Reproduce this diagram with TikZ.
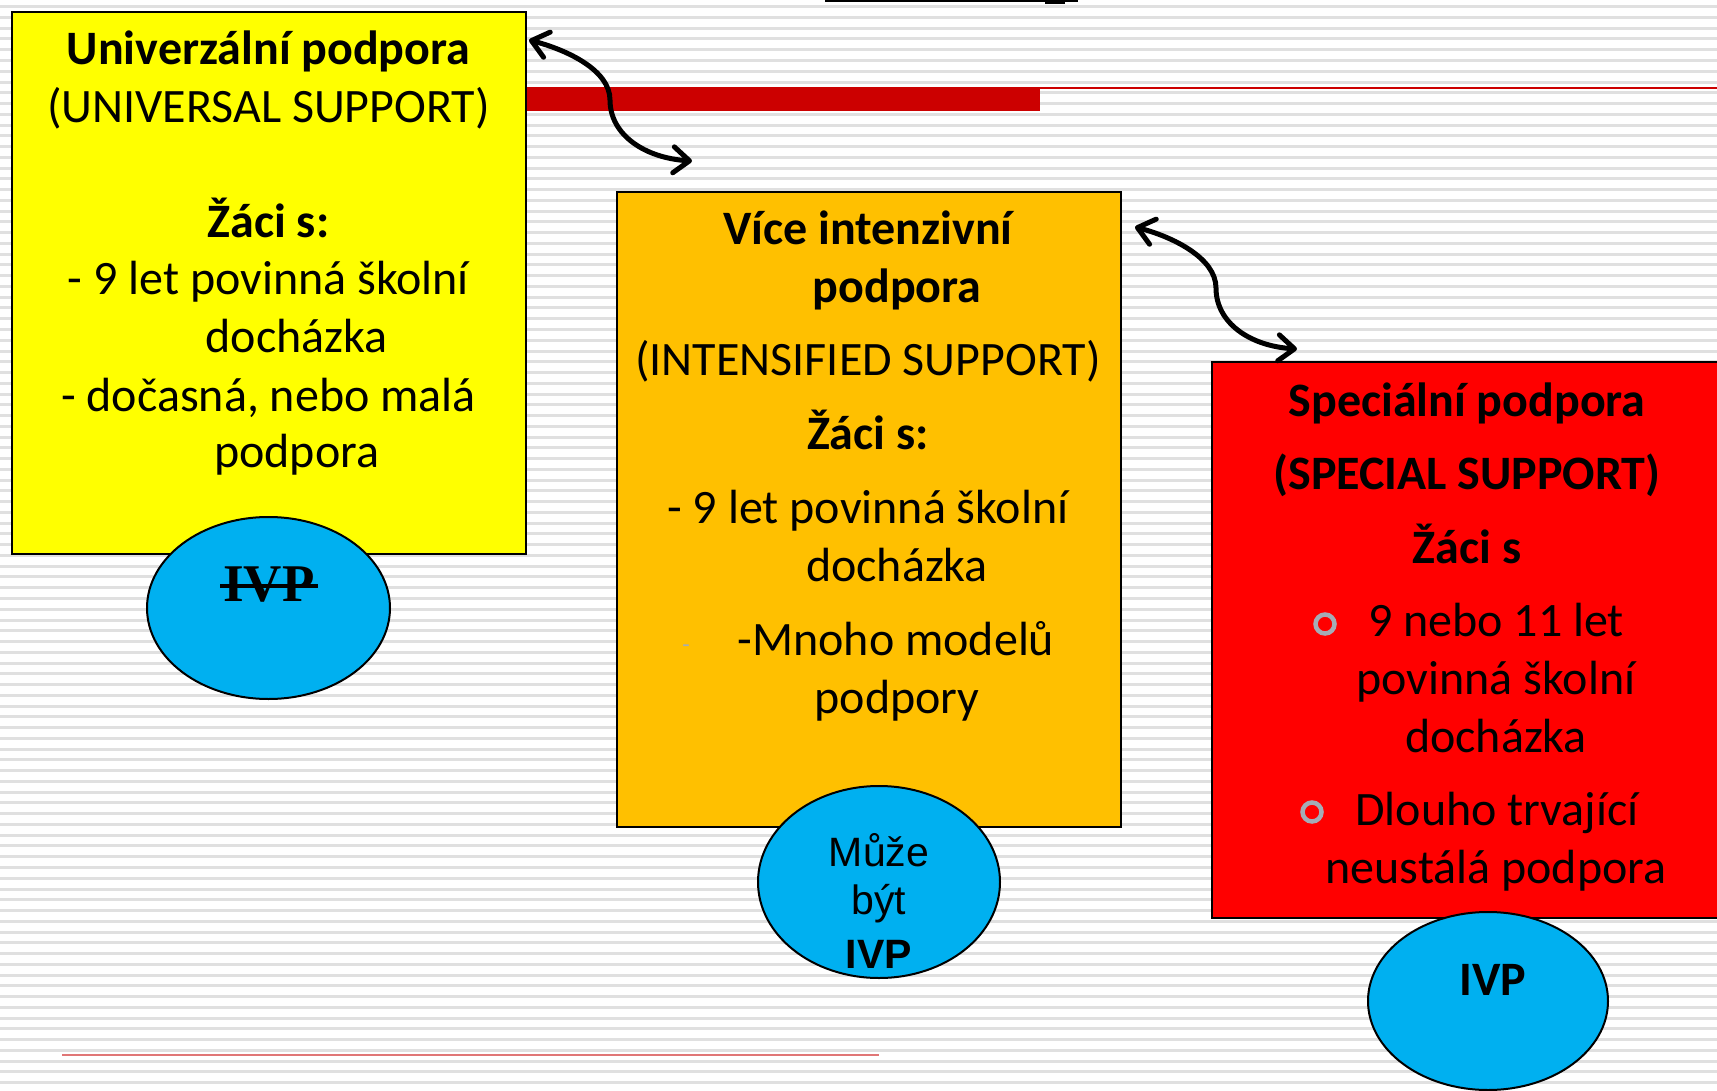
\documentclass[tikz,border=0pt]{standalone}
\usepackage{fontspec}
\setmainfont{Carlito}
\newfontfamily\arialfont{Liberation Sans}
\newfontfamily\timesfont{Liberation Serif}
\usepackage{tikz}
\usetikzlibrary{positioning, shapes.geometric, arrows.meta}

\definecolor{univyellow}{RGB}{255,255,0}
\definecolor{intorange}{RGB}{255,192,0}
\definecolor{specred}{RGB}{255,0,0}
\definecolor{ivpblue}{RGB}{0,176,240}
\definecolor{bardark}{RGB}{204,0,0}
\definecolor{stripegray}{RGB}{224,224,224}
\definecolor{linepink}{RGB}{224,118,118}
\definecolor{ringgray}{RGB}{165,172,182}

\newcommand{\bigtext}{\fontsize{48}{57}\selectfont}

\begin{document}
\begin{tikzpicture}[x=1pt, y=-1pt,
  box/.style={draw=black, line width=2pt, anchor=north west, inner sep=0pt},
  ivp/.style={ellipse, draw=black, line width=2pt, fill=ivpblue, inner sep=0pt},
  txtline/.style={anchor=base, inner sep=0pt, font=\bigtext},
  boldline/.style={anchor=base, inner sep=0pt, font=\bigtext\bfseries},
  twoway/.style={line width=5pt, line cap=round,
    {Straight Barb[round,length=16pt,width=26pt]}-{Straight Barb[round,length=16pt,width=26pt]}},
  ring/.style={circle, draw=ringgray, line width=4.5pt, minimum size=19pt, inner sep=0pt}]
  \useasboundingbox (0,0) rectangle (1717,1091);
  \clip (0,0) rectangle (1717,1091);
  \fill[white] (0,0) rectangle (1717,1091);
  \foreach \k in {0,...,100}
    \fill[stripegray] (0,5.2+10.76*\k) rectangle (1717,8.2+10.76*\k);

  % slide decorations
  \fill[black] (825,0) rectangle (1078,2.5);
  \fill[black] (1045,0) rectangle (1065,4.5);
  \fill[bardark] (525,87) rectangle (1040,111);
  \draw[bardark, line width=1.6pt] (1040,88) -- (1717,88);
  \draw[linepink, line width=2pt] (62,1055) -- (879,1055);

  % boxes
  \node[box, fill=univyellow, minimum width=514pt, minimum height=542pt] (univ) at (11,11) {};
  \node[box, fill=intorange, minimum width=504pt, minimum height=635pt] (intens) at (616,191) {};
  \node[box, fill=specred, minimum width=540pt, minimum height=556pt] (special) at (1211,361) {};

  % IVP ellipses
  \node[ivp, minimum width=243pt, minimum height=182pt] (ivpA) at (268.5,608) {};
  \node[ivp, minimum width=242pt, minimum height=192pt] (ivpB) at (879,882) {};
  \node[ivp, minimum width=240pt, minimum height=178pt] (ivpC) at (1488,1001) {};

  % universal support
  \node[boldline] (u1) at (268.5,65)  {Univerzální podpora};
  \node[txtline]  (u2) at (268.5,123) {(UNIVERSAL SUPPORT)};
  \node[boldline] (u3) at (268.5,238) {Žáci s:};
  \node[txtline]  (u4) at (268.5,295) {- 9 let povinná školní};
  \node[txtline]  (u5) at (296.7,353) {docházka};
  \node[txtline]  (u6) at (268.5,411) {- dočasná, nebo malá};
  \node[txtline]  (u7) at (296.7,467) {podpora};

  % intensified support
  \node[boldline] (i1) at (868,245) {Více intenzivní};
  \node[boldline] (i2) at (897,303) {podpora};
  \node[txtline]  (i3) at (868,376) {(INTENSIFIED SUPPORT)};
  \node[boldline] (i4) at (868,449) {Žáci s:};
  \node[txtline]  (i5) at (868,523) {- 9 let povinná školní};
  \node[txtline]  (i6) at (897,581) {docházka};
  \node[anchor=base, inner sep=0pt, text=ringgray, font=\fontsize{24}{28}\selectfont] (i7) at (686,652) {-};
  \node[txtline]  (i8) at (896,655) {-Mnoho modelů};
  \node[txtline]  (i9) at (897,713) {podpory};

  % special support
  \node[boldline] (s1) at (1467,417) {Speciální podpora};
  \node[boldline] (s2) at (1467,489) {(SPECIAL SUPPORT)};
  \node[boldline] (s3) at (1467,563) {Žáci s};
  \node[ring] (b1) at (1325,624) {};
  \node[txtline]  (s4) at (1496,636) {9 nebo 11 let};
  \node[txtline]  (s5) at (1496,694) {povinná školní};
  \node[txtline]  (s6) at (1496,752) {docházka};
  \node[ring] (b2) at (1312,812) {};
  \node[txtline]  (s7) at (1497,825) {Dlouho trvající};
  \node[txtline]  (s8) at (1496,883) {neustálá podpora};

  % ellipse labels
  \node[anchor=base, inner sep=0pt, font={\fontsize{53}{60}\timesfont\bfseries}] (ta) at (269,601) {IVP};
  \draw[line width=3.5pt] ([shift={(-3,-15)}]ta.base west) -- ([shift={(3,-15)}]ta.base east);
  \node[anchor=base, inner sep=0pt, font={\fontsize{41}{48}\arialfont}] (tb1) at (879,866) {Může};
  \node[anchor=base, inner sep=0pt, font={\fontsize{41}{48}\arialfont}] (tb2) at (879,914) {být};
  \node[anchor=base, inner sep=0pt, font={\fontsize{41}{48}\arialfont\bfseries}] (tb3) at (879,968) {IVP};
  \node[boldline] (tc) at (1493,995) {IVP};

  % two-way arrows
  \coordinate (uA) at ([shift={(2,29)}]univ.north east);
  \coordinate (uM) at ([shift={(83,89)}]univ.north east);
  \coordinate (iA) at ([shift={(76,-30)}]intens.north west);
  \coordinate (iB) at ([shift={(13,36)}]intens.north east);
  \coordinate (iM) at ([shift={(94,97)}]intens.north east);
  \coordinate (sA) at ([shift={(86,-12)}]special.north west);
  \draw[twoway] (uA) .. controls +(38,10) and +(0,-30) .. (uM) .. controls +(0,35) and +(-47,-3) .. (iA);
  \draw[twoway] (iB) .. controls +(38,10) and +(0,-30) .. (iM) .. controls +(0,35) and +(-47,-3) .. (sA);
\end{tikzpicture}
\end{document}
